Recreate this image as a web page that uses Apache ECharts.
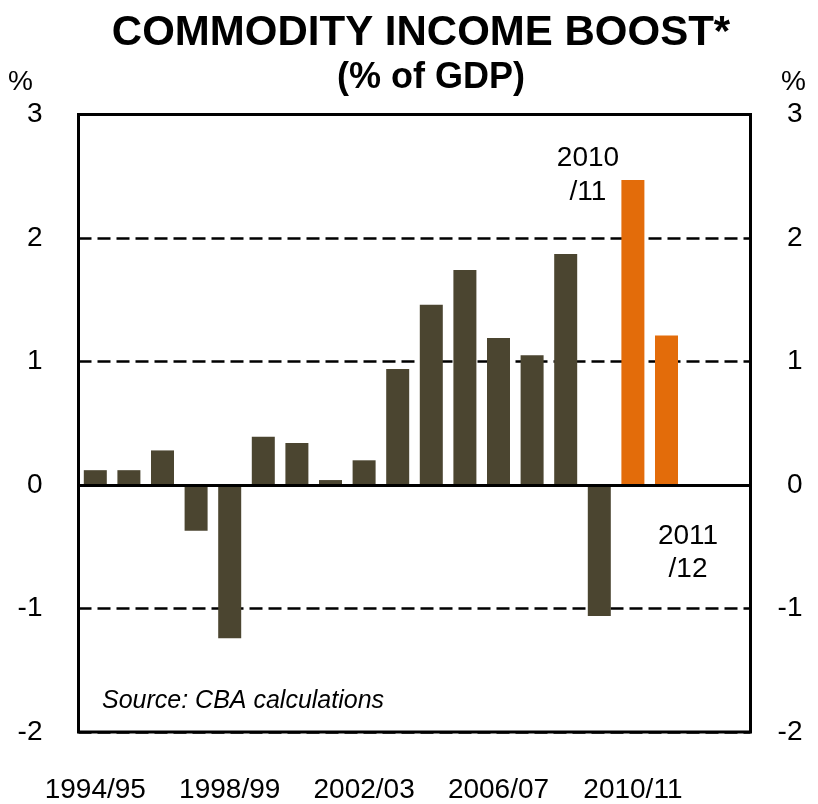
<!DOCTYPE html>
<html>
<head>
<meta charset="utf-8">
<script src="https://cdn.jsdelivr.net/npm/echarts@6/dist/echarts.min.js"></script>
<style>
  html, body { margin: 0; padding: 0; background: #fff; }
  #chart { width: 818px; height: 804px; }
</style>
</head>
<body>
<div id="chart"></div>
<script>
// Financial years on the category axis (two empty years keep space on the right)
const categories = [
  '1994/95', '1995/96', '1996/97', '1997/98', '1998/99', '1999/00',
  '2000/01', '2001/02', '2002/03', '2003/04', '2004/05', '2005/06',
  '2006/07', '2007/08', '2008/09', '2009/10', '2010/11', '2011/12',
  '2012/13', '2013/14'
];
// Commodity income boost, % of GDP
const boost = [
  0.12, 0.12, 0.28, -0.37, -1.24, 0.39,
  0.34, 0.04, 0.20, 0.94, 1.46, 1.74,
  1.19, 1.05, 1.87, -1.06, 2.47, 1.21
];
// Years drawn in the forecast colour
const forecastYears = ['2010/11', '2011/12'];
// Value axis ticks
const yTicks = [-2, -1, 0, 1, 2, 3];

const FONT = 'Liberation Sans, Arial, sans-serif';
const DARK = '#4b4530';
const ORANGE = '#e36c0a';

const chart = echarts.init(document.getElementById('chart'), null, { renderer: 'canvas' });

const axisLabelStyle = { color: '#000', fontSize: 28, fontFamily: FONT };

chart.setOption({
  animation: false,
  backgroundColor: '#fff',
  title: [
    {
      text: 'COMMODITY INCOME BOOST*',
      left: 416, top: 7, textAlign: 'center',
      textStyle: { fontFamily: FONT, fontWeight: 'bold', fontSize: 42, color: '#000' }
    },
    {
      text: '(% of GDP)',
      left: 426, top: 55, textAlign: 'center',
      textStyle: { fontFamily: FONT, fontWeight: 'bold', fontSize: 36, color: '#000' }
    }
  ],
  grid: {
    left: 78.5, right: 67.5, top: 114.5, bottom: 72,
    show: true, borderColor: '#000', borderWidth: 3, backgroundColor: 'transparent'
  },
  xAxis: {
    type: 'category',
    data: categories,
    position: 'bottom',
    axisLine: { show: false, onZero: false },
    axisTick: { show: false },
    axisLabel: Object.assign({ interval: 3, margin: 44 }, axisLabelStyle),
    splitLine: { show: false }
  },
  yAxis: [
    {
      type: 'value', min: yTicks[0], max: yTicks[yTicks.length - 1], interval: 1,
      position: 'left',
      axisLine: { show: false }, axisTick: { show: false },
      axisLabel: Object.assign({ margin: 36 }, axisLabelStyle),
      splitLine: { show: true, lineStyle: { color: '#000', width: 2.5, type: [13, 6] } }
    },
    {
      type: 'value', min: yTicks[0], max: yTicks[yTicks.length - 1], interval: 1,
      position: 'right',
      axisLine: { show: false }, axisTick: { show: false },
      axisLabel: Object.assign({ margin: 52, align: 'right' }, axisLabelStyle),
      splitLine: { show: false }
    }
  ],
  series: [
    {
      type: 'bar',
      data: boost.map((v, i) => ({
        value: v,
        itemStyle: { color: forecastYears.includes(categories[i]) ? ORANGE : DARK }
      })),
      barWidth: 23,
      markLine: {
        silent: true,
        symbol: ['none', 'none'],
        label: { show: false },
        lineStyle: { color: '#000', width: 3, type: 'solid' },
        data: [{ yAxis: 0 }]
      }
    }
  ],
  graphic: [
    { type: 'text', left: 8, top: 68, style: { text: '%', font: '28px ' + FONT, fill: '#000' } },
    { type: 'text', right: 12, top: 68, style: { text: '%', font: '28px ' + FONT, fill: '#000' } },
    { type: 'text', x: 588, y: 141, style: { text: '2010\n/11', font: '28px ' + FONT, fill: '#000', align: 'center', lineHeight: 34 } },
    { type: 'text', x: 688, y: 520, style: { text: '2011\n/12', font: '28px ' + FONT, fill: '#000', align: 'center', lineHeight: 33 } },
    { type: 'text', x: 102, y: 689, style: { text: 'Source: CBA calculations', font: 'italic 25px ' + FONT, fill: '#000' } }
  ]
});
</script>
</body>
</html>
